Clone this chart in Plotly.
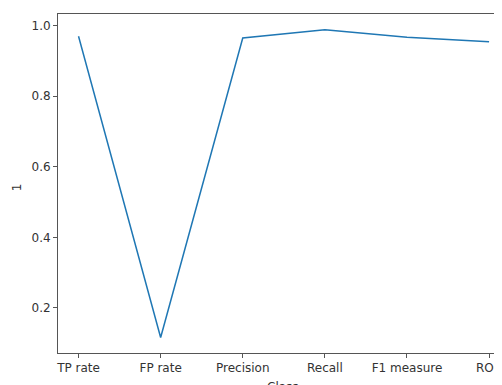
import plotly.graph_objects as go

categories = ["TP rate", "FP rate", "Precision", "Recall", "F1 measure", "ROC"]
values = [0.970, 0.116, 0.965, 0.988, 0.967, 0.954]
y_ticks = [0.2, 0.4, 0.6, 0.8, 1.0]

# page body has an 8px default margin; figure is offset by (8, 8) in the window
OFF = 8
W, H = 502 - OFF, 385 - OFF
L, R, T, B = 58 - OFF, 0, 14 - OFF, 32
pw, ph = W - L - R, H - T - B

fig = go.Figure()
fig.add_trace(go.Scatter(
    x=list(range(len(categories))), y=values, mode="lines",
    line=dict(color="#1f77b4", width=1.5), showlegend=False,
))

font = dict(family="DejaVu Sans", size=12, color="#333")
fig.update_layout(
    width=W, height=H,
    margin=dict(l=L, r=R, t=T, b=B, pad=0),
    paper_bgcolor="white", plot_bgcolor="white",
    font=font,
    xaxis=dict(
        range=[-0.25, 5.133],
        tickmode="array", tickvals=list(range(len(categories))), ticktext=categories,
        showgrid=False, zeroline=False,
        showline=True, linecolor="#555", linewidth=1, mirror=True,
        ticks="outside", ticklen=4, tickcolor="#555", tickwidth=1,
        tickfont=font, ticklabeloverflow="allow",
    ),
    yaxis=dict(
        range=[0.072, 1.033],
        tickmode="array", tickvals=y_ticks, tickformat=".1f",
        showgrid=False, zeroline=False,
        showline=True, linecolor="#555", linewidth=1, mirror=False,
        ticks="outside", ticklen=4, tickcolor="#555", tickwidth=1,
        tickfont=font,
    ),
    annotations=[
        dict(text="Class", xref="paper", yref="paper",
             x=(284.5 - OFF - L) / pw, y=-(378 - OFF - (T + ph)) / ph,
             xanchor="center", yanchor="top", showarrow=False, font=font),
        dict(text="1", xref="paper", yref="paper",
             x=(17 - OFF - L) / pw, y=(H - B - (187 - OFF)) / ph,
             xanchor="center", yanchor="middle", textangle=-90,
             showarrow=False, font=font),
    ],
)

fig.write_html("out.html")
